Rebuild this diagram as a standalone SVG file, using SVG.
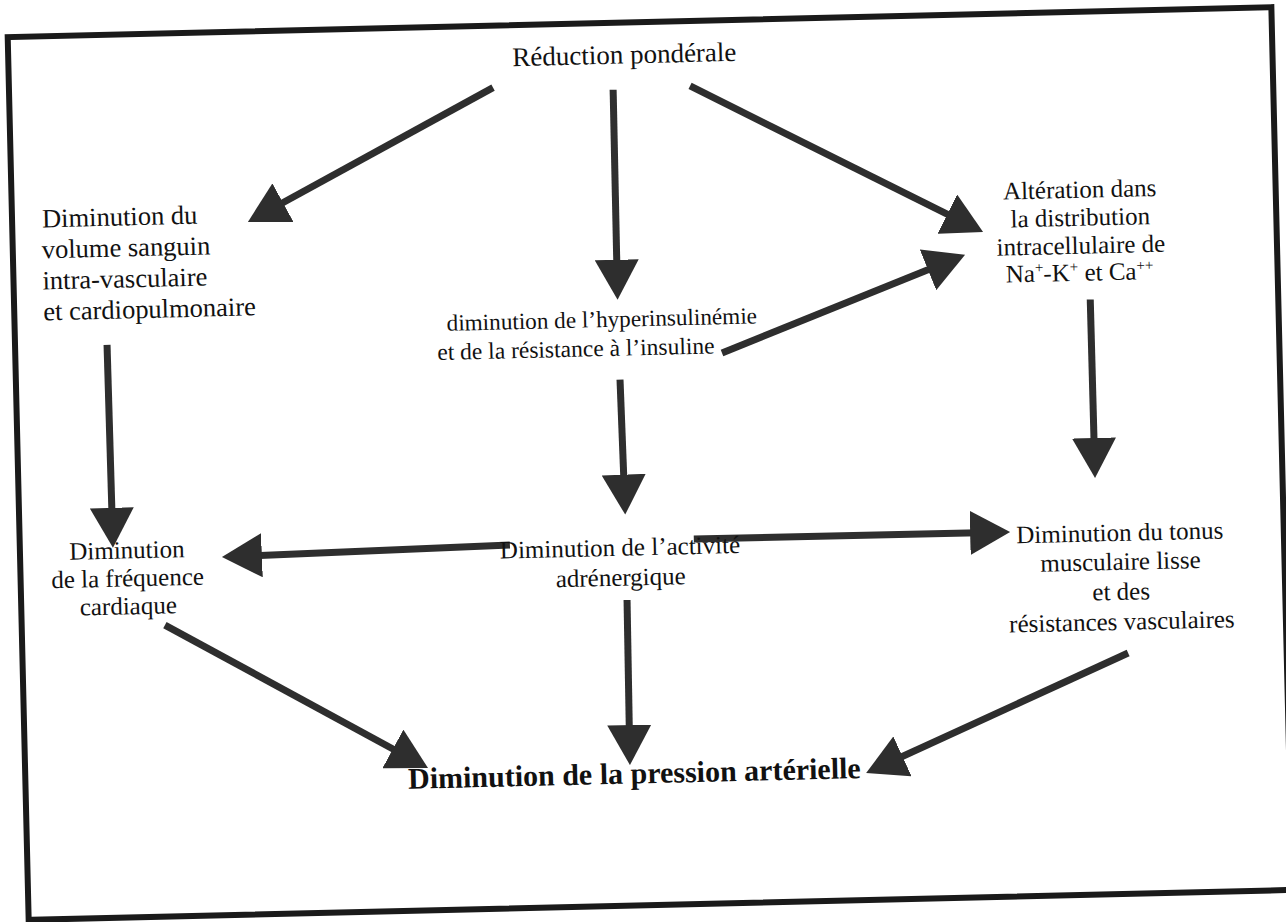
<svg xmlns="http://www.w3.org/2000/svg" width="1286" height="922" viewBox="0 0 1286 922">
<style>
.t{font-family:"Liberation Serif","Times New Roman",serif;font-size:25px;fill:#111}
.m{text-anchor:middle}
.l{font-size:26.5px}
.b{font-weight:bold;font-size:30px}
.c{stroke:#2e2e2e;stroke-width:7;fill:none;marker-end:url(#ah)}
</style>
<defs>
<marker id="ah" markerUnits="userSpaceOnUse" markerWidth="40" markerHeight="44" viewBox="0 0 40 44" refX="20" refY="22" orient="auto">
<path d="M0,0 L40,22 L0,44 Z" fill="#2e2e2e"/>
</marker>
</defs>
<rect width="1286" height="922" fill="#fff"/>
<g transform="rotate(-1.36 651 463)">
<rect id="frame" x="18" y="22" width="1264" height="883" fill="none" stroke="#1a1a1a" stroke-width="6"/>
<g id="connectors">
<line class="c" x1="502" y1="84" x2="271.5" y2="203.2"/>
<line class="c" x1="622" y1="89" x2="621.5" y2="279"/>
<line class="c" x1="699" y1="87" x2="970.8" y2="230.6"/>
<line class="c" x1="724.6" y1="354.7" x2="951.2" y2="269.4"/>
<line class="c" x1="110" y1="332" x2="111" y2="515"/>
<line class="c" x1="622" y1="379" x2="623.7" y2="494"/>
<line class="c" x1="1094" y1="310" x2="1094.5" y2="468.5"/>
<line class="c" x1="508" y1="541.7" x2="239.8" y2="546.4"/>
<line class="c" x1="692" y1="540" x2="988.4" y2="540.5"/>
<line class="c" x1="161.2" y1="613.5" x2="403.5" y2="752.7"/>
<line class="c" x1="623.8" y1="599.4" x2="622.9" y2="744.5"/>
<line class="c" x1="1123.5" y1="664.3" x2="877.1" y2="770.2"/>
</g>
<g id="n-reduction"><text class="t m" x="634" y="63" style="font-size:27px">Réduction pondérale</text></g>
<g id="n-volume">
<text class="t l" x="48" y="213">Diminution du</text>
<text class="t l" x="47" y="244">volume sanguin</text>
<text class="t l" x="47" y="275">intra-vasculaire</text>
<text class="t l" x="47" y="306">et cardiopulmonaire</text>
</g>
<g id="n-insuline">
<text class="t" x="450" y="326" style="font-size:23.2px">diminution de l’hyperinsulinémie</text>
<text class="t" x="440" y="355" style="font-size:23.5px">et de la résistance à l’insuline</text>
</g>
<g id="n-alteration">
<text class="t m" x="1086" y="208">Altération dans</text>
<text class="t m" x="1086" y="236">la distribution</text>
<text class="t m" x="1086" y="264">intracellulaire de</text>
<text class="t m" x="1084" y="291">Na<tspan dy="-9" font-size="15">+</tspan><tspan dy="9">-K</tspan><tspan dy="-9" font-size="15">+</tspan><tspan dy="9"> et Ca</tspan><tspan dy="-9" font-size="15">++</tspan></text>
</g>
<g id="n-frequence">
<text class="t m" x="125" y="546">Diminution</text>
<text class="t m" x="125" y="574">de la fréquence</text>
<text class="t m" x="125" y="602">cardiaque</text>
</g>
<g id="n-activite">
<text class="t m" x="618" y="555">Diminution de l’activité</text>
<text class="t m" x="618" y="585">adrénergique</text>
</g>
<g id="n-tonus">
<text class="t m" x="1118" y="552">Diminution du tonus</text>
<text class="t m" x="1118" y="581">musculaire lisse</text>
<text class="t m" x="1118" y="611">et des</text>
<text class="t m" x="1118" y="641">résistances vasculaires</text>
</g>
<g id="n-pression"><text class="t m b" x="627" y="783">Diminution de la pression artérielle</text></g>
</g>
</svg>
